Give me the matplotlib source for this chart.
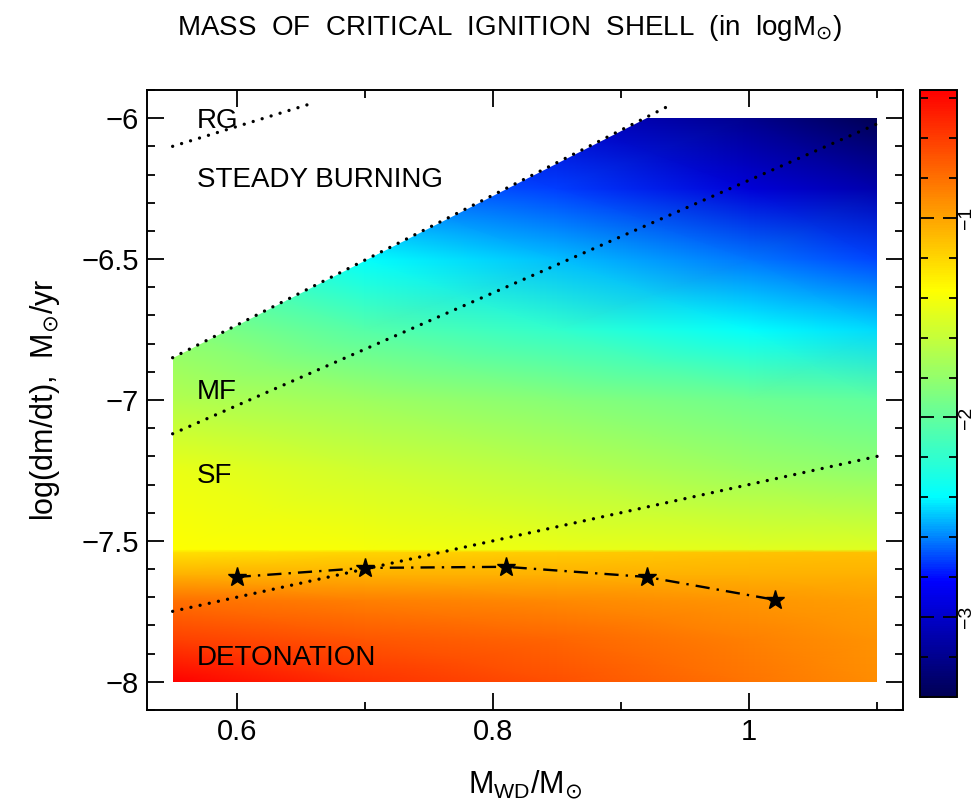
import numpy as np
import matplotlib
matplotlib.use('Agg')
import matplotlib.pyplot as plt
from matplotlib.colors import LinearSegmentedColormap
from matplotlib.patches import Polygon
from matplotlib.ticker import MultipleLocator, FuncFormatter

plt.rcParams['font.family'] = ['Liberation Sans', 'DejaVu Sans']
plt.rcParams['mathtext.fontset'] = 'dejavusans'

# Grid of the colour field: log of critical shell mass
mwd_nodes = [0.55, 0.70, 0.85, 1.00, 1.10]
mdot_nodes = [-8.0, -7.85, -7.71, -7.62, -7.54, -7.53, -7.25, -7.0, -6.75, -6.5, -6.25, -6.0]
logm_shell = [
    [-0.36, -0.55, -0.68, -0.82, -0.91],
    [-0.61, -0.70, -0.76, -0.87, -0.94],
    [-0.81, -0.86, -0.90, -0.95, -0.98],
    [-1.06, -1.05, -1.05, -1.05, -1.05],
    [-1.24, -1.20, -1.16, -1.13, -1.11],
    [-1.36, -1.40, -1.45, -1.48, -1.50],
    [-1.45, -1.55, -1.65, -1.75, -1.82],
    [-1.67, -1.75, -1.85, -1.95, -2.00],
    [-1.85, -2.05, -2.20, -2.38, -2.45],
    [-2.10, -2.38, -2.50, -2.62, -2.70],
    [-2.60, -2.65, -2.72, -2.95, -3.10],
    [-2.90, -2.95, -3.00, -3.20, -3.40],
]

# computed region (outline)
region_mwd = [0.55, 1.10, 1.10, 0.92, 0.55]
region_mdot = [-8.0, -8.0, -6.0, -6.0, -6.85]

# boundary lines
rg_mwd, rg_mdot = [0.55, 0.657], [-6.10, -5.95]
sb_mwd, sb_mdot = [0.55, 0.94], [-6.85, -5.95]
mf_mwd, mf_mdot = [0.55, 1.10], [-7.12, -6.02]
sf_mwd, sf_mdot = [0.55, 1.10], [-7.75, -7.20]

# star curve
star_mwd = [0.60, 0.70, 0.81, 0.92, 1.02]
star_mdot = [-7.628, -7.596, -7.592, -7.628, -7.709]

# region labels
label_text = ['RG', 'STEADY BURNING', 'MF', 'SF', 'DETONATION']
label_mwd = [0.569, 0.569, 0.569, 0.569, 0.569]
label_mdot = [-6.01, -6.22, -6.97, -7.27, -7.915]

vmin, vmax = -3.40, -0.36

cmap = LinearSegmentedColormap.from_list('shell', [
    (0.00, (0.0, 0.0, 0.33)),
    (0.19, (0.0, 0.0, 1.0)),
    (0.33, (0.0, 1.0, 1.0)),
    (0.50, (0.5, 1.0, 0.5)),
    (0.67, (1.0, 1.0, 0.0)),
    (0.82, (1.0, 0.55, 0.0)),
    (1.00, (1.0, 0.0, 0.0)),
])

fig = plt.figure(figsize=(9.8, 8.09), dpi=100)
ax = fig.add_axes([0.15, 0.1224, 0.7714, 0.7664])
cax = fig.add_axes([0.9388, 0.1384, 0.0378, 0.7503])

X, Y = np.meshgrid(mwd_nodes, mdot_nodes)
mesh = ax.pcolormesh(X, Y, np.array(logm_shell), cmap=cmap, vmin=vmin, vmax=vmax,
                     shading='gouraud', zorder=1)
clip = Polygon(np.column_stack([region_mwd, region_mdot]), closed=True,
               transform=ax.transData, facecolor='none', edgecolor='none')
ax.add_patch(clip)
mesh.set_clip_path(clip)

dots = dict(color='black', lw=2.4, linestyle=(0, (0.01, 2.8)),
            dash_capstyle='round', zorder=3)
ax.plot(rg_mwd, rg_mdot, **dots)
ax.plot(sb_mwd, sb_mdot, **dots)
ax.plot(mf_mwd, mf_mdot, **dots)
ax.plot(sf_mwd, sf_mdot, **dots)

ax.plot(star_mwd, star_mdot, color='black', lw=1.7, linestyle=(0, (6, 3, 1, 3)),
        marker='*', markersize=14, zorder=4)

for t, x, y in zip(label_text, label_mwd, label_mdot):
    ax.text(x, y, t, fontsize=20, va='center', ha='left', zorder=5)

ax.set_xlim(0.53, 1.12)
ax.set_ylim(-8.1, -5.9)
ax.xaxis.set_minor_locator(MultipleLocator(0.1))
ax.yaxis.set_major_locator(MultipleLocator(0.5))
ax.yaxis.set_minor_locator(MultipleLocator(0.1))
ax.set_xticks([0.6, 0.8, 1.0])
ax.set_xticklabels(['0.6', '0.8', '1'])
ax.yaxis.set_major_formatter(FuncFormatter(lambda v, p: f'{v:g}'.replace('-', '\u2212')))
ax.tick_params(which='both', direction='in', top=True, right=True, width=1.3,
               labelsize=21)
ax.tick_params(which='major', length=12, pad=6)
ax.tick_params(which='minor', length=6)
for s in ax.spines.values():
    s.set_linewidth(1.4)

ax.set_xlabel(r'M$_{\mathregular{WD}}$/M$_{\odot}$', fontsize=22, labelpad=16)
ax.set_ylabel(r'log(dm/dt),  M$_{\odot}$/yr', fontsize=22, labelpad=14)
fig.text(0.52, 0.965, r'MASS  OF  CRITICAL  IGNITION  SHELL  (in  logM$_{\odot}$)',
         fontsize=20, ha='center', va='center')

cb = fig.colorbar(mesh, cax=cax)
cb.outline.set_linewidth(1.4)
cb.set_ticks([-3, -2, -1])
cb.set_ticklabels(['\u22123', '\u22122', '\u22121'])
cax.yaxis.set_minor_locator(MultipleLocator(0.2))
cax.tick_params(which='both', direction='in', left=True, right=True, width=1.3,
                labelsize=14, pad=1)
cax.tick_params(which='major', length=10)
cax.tick_params(which='minor', length=6)
for lab in cax.get_yticklabels():
    lab.set_rotation(90)
    lab.set_va('center')

fig.savefig('out.png', dpi=100)
